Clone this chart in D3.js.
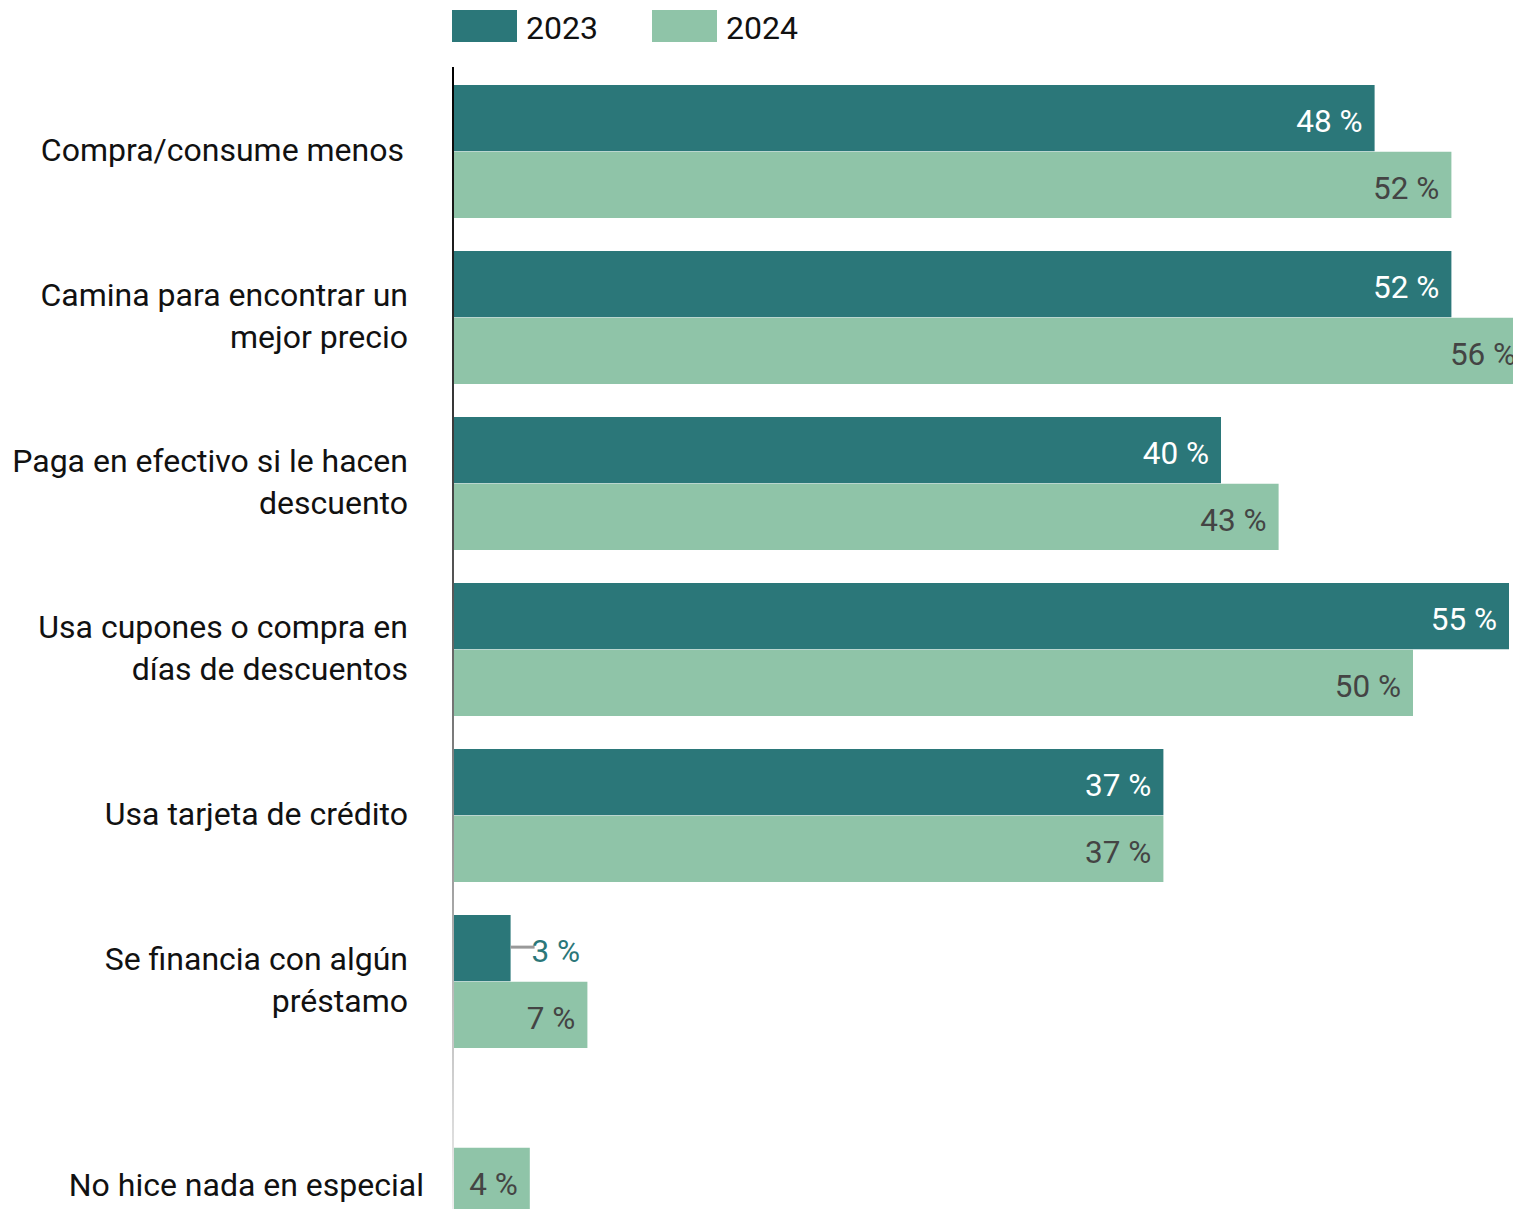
<!DOCTYPE html>
<meta charset="utf-8">
<style>
body { margin: 0; background: #fff; }
svg { font-family: Roboto, "Noto Sans", sans-serif; }
.cat { font-size: 32px; fill: #111; }
.val { font-size: 31.5px; }
.leg { font-size: 32px; fill: #111; }
</style>
<svg width="1513" height="1209"></svg>
<script src="https://d3js.org/d3.v7.min.js"></script>
<script>

var categories = [
  ["Compra/consume menos"],
  ["Camina para encontrar un", "mejor precio"],
  ["Paga en efectivo si le hacen", "descuento"],
  ["Usa cupones o compra en", "días de descuentos"],
  ["Usa tarjeta de crédito"],
  ["Se financia con algún", "préstamo"],
  ["No hice nada en especial"]
];
var years = ["2023", "2024"];
var values2023 = [48, 52, 40, 55, 37, 3, null];
var values2024 = [52, 56, 43, 50, 37, 7, 4];

var colors = {"2023": "#2b7779", "2024": "#8fc4a8"};
var labelColors = {"2023": "#fff", "2024": "#444"};

var svg = d3.select("svg");
var keys = categories.map(function(c) { return c.join(" "); });

var data = keys.map(function(k, i) {
  return {key: k, lines: categories[i], "2023": values2023[i], "2024": values2024[i]};
});

var x = d3.scaleLinear().domain([0, 10]).range([453, 645]);

var y0 = d3.scaleBand()
    .domain(keys)
    .range([85, 1214])
    .paddingInner(33 / 166)
    .paddingOuter(0);

var y1 = d3.scaleBand()
    .domain(years)
    .range([0, y0.bandwidth()])
    .paddingInner(1 / 133);

// axis line, fading downwards
var grad = svg.append("defs").append("linearGradient")
    .attr("id", "fade").attr("x1", 0).attr("y1", 0).attr("x2", 0).attr("y2", 1);
grad.append("stop").attr("offset", "0%").attr("stop-color", "#000");
grad.append("stop").attr("offset", "45%").attr("stop-color", "#555");
grad.append("stop").attr("offset", "75%").attr("stop-color", "#aaa");
grad.append("stop").attr("offset", "100%").attr("stop-color", "#eee");

svg.append("rect")
    .attr("x", x(0) - 1)
    .attr("y", 67)
    .attr("width", 2)
    .attr("height", 1209 - 67)
    .attr("fill", "url(#fade)");

// bars
var group = svg.selectAll("g.grp")
  .data(data)
  .enter().append("g")
    .attr("class", "grp")
    .attr("transform", function(d) { return "translate(0," + y0(d.key) + ")"; });

var cells = group.selectAll("g.cell")
  .data(function(d) {
    return years.filter(function(yr) { return d[yr] != null; })
      .map(function(yr) { return {year: yr, value: d[yr]}; });
  })
  .enter().append("g").attr("class", "cell");

cells.append("rect")
    .attr("x", x(0) + 1)
    .attr("y", function(d) { return y1(d.year); })
    .attr("width", function(d) { return x(d.value) - x(0) - 1; })
    .attr("height", y1.bandwidth())
    .attr("fill", function(d) { return colors[d.year]; });

// value labels: inside bar, or outside with a leader when the bar is too short
cells.each(function(d) {
  var g = d3.select(this);
  var cy = y1(d.year) + y1.bandwidth() / 2;
  var inside = x(d.value) - x(0) > 70;
  if (inside) {
    g.append("text")
        .attr("class", "val")
        .attr("x", x(d.value) - 12)
        .attr("y", cy + 3)
        .attr("dy", "0.35em")
        .attr("text-anchor", "end")
        .attr("fill", labelColors[d.year])
        .text(d.value + " %");
  } else {
    g.append("line")
        .attr("x1", x(d.value))
        .attr("x2", x(d.value) + 24)
        .attr("y1", cy - 1)
        .attr("y2", cy - 1)
        .attr("stroke", "#999")
        .attr("stroke-width", 3);
    g.append("text")
        .attr("class", "val")
        .attr("x", x(d.value) + 21)
        .attr("y", cy + 3)
        .attr("dy", "0.35em")
        .attr("fill", colors[d.year])
        .text(d.value + " %");
  }
});

// category labels
group.each(function(d) {
  var g = d3.select(this);
  var single = d["2023"] == null;
  var cy = single ? y1("2024") + y1.bandwidth() / 2 + 4 : y0.bandwidth() / 2 - 2;
  var lh = 42;
  var xr = single ? 424 : (d.lines.length === 1 && d["2023"] === 48 ? 404 : 408);
  var t = g.append("text")
      .attr("class", "cat")
      .attr("text-anchor", "end")
      .attr("x", xr);
  d.lines.forEach(function(line, i) {
    t.append("tspan")
        .attr("x", xr)
        .attr("y", cy - (d.lines.length - 1) * lh / 2 + i * lh)
        .attr("dy", "0.35em")
        .text(line);
  });
});

// legend
var legend = svg.selectAll("g.leg")
  .data(years)
  .enter().append("g")
    .attr("transform", function(d, i) { return "translate(" + (452 + i * 200) + ",10)"; });

legend.append("rect")
    .attr("width", 65)
    .attr("height", 32)
    .attr("fill", function(d) { return colors[d]; });

legend.append("text")
    .attr("class", "leg")
    .attr("x", 74)
    .attr("y", 18)
    .attr("dy", "0.35em")
    .text(function(d) { return d; });

</script>
